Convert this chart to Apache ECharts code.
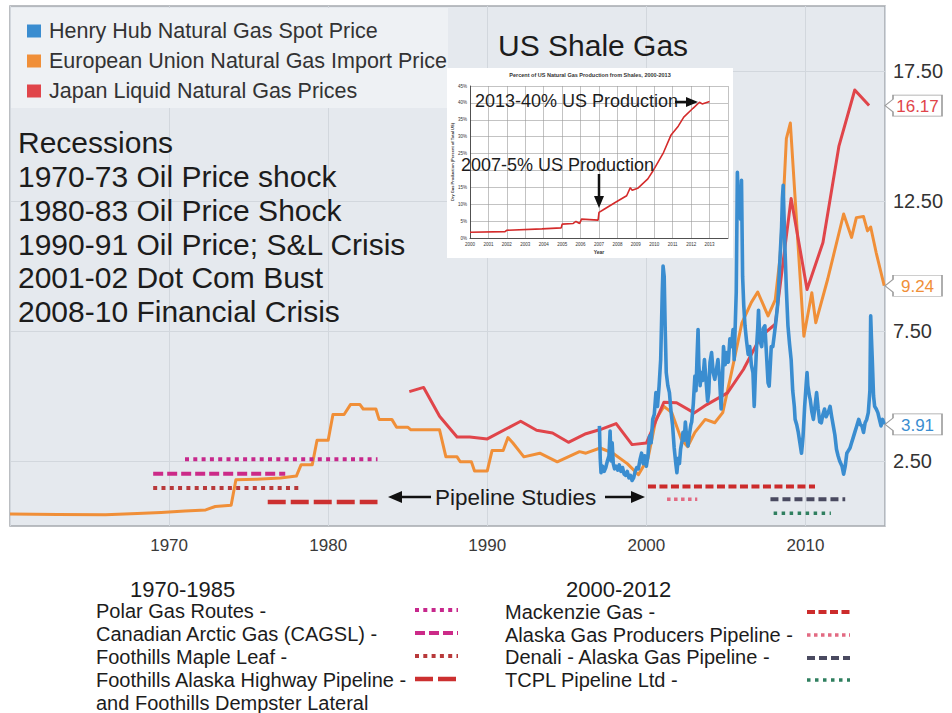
<!DOCTYPE html>
<html><head><meta charset="utf-8">
<script src="https://cdn.jsdelivr.net/npm/echarts@6/dist/echarts.min.js"></script>
<style>html,body{margin:0;padding:0;background:#fff}#c{width:952px;height:713px}</style>
</head><body><div id="c"></div>
<script>
// ---------- DATA ----------
const seriesNames = ['Henry Hub Natural Gas Spot Price', 'European Union Natural Gas Import Price', 'Japan Liquid Natural Gas Prices'];
const xTicks = [1970, 1980, 1990, 2000, 2010];
const yTicks = [2.5, 7.5, 12.5, 17.5];

const henryHub = [
[1997.05,3.85],[1997.1,2.6],[1997.15,2.05],[1997.25,2.3],[1997.35,2.1],[1997.45,2.25],[1997.55,2.5],[1997.65,2.7],
[1997.72,3.65],[1997.78,2.5],[1997.85,3.2],[1997.92,2.4],[1998.0,2.2],[1998.1,2.3],[1998.2,2.15],[1998.3,2.35],
[1998.4,2.1],[1998.5,2.25],[1998.6,2.0],[1998.7,1.95],[1998.8,2.1],[1998.9,1.85],[1999.0,1.95],[1999.1,1.75],
[1999.2,1.85],[1999.3,2.1],[1999.4,2.25],[1999.5,2.2],[1999.6,2.55],[1999.7,2.8],[1999.8,2.4],[1999.9,2.7],
[2000.0,2.3],[2000.1,2.7],[2000.2,3.46],[2000.3,3.2],[2000.4,4.1],[2000.5,4.3],[2000.6,5.13],[2000.7,4.6],
[2000.8,5.38],[2000.9,6.4],[2001.0,9.0],[2001.05,10.0],[2001.12,9.6],[2001.18,7.7],[2001.25,5.9],[2001.35,5.4],
[2001.45,5.13],[2001.55,4.4],[2001.65,3.85],[2001.75,3.0],[2001.85,2.4],[2001.92,2.05],[2002.0,2.6],[2002.08,2.4],
[2002.15,2.95],[2002.25,3.3],[2002.3,3.6],[2002.38,3.3],[2002.45,4.0],[2002.55,3.3],[2002.62,3.08],[2002.7,3.5],
[2002.8,3.9],[2002.85,4.0],[2002.95,4.7],[2003.05,5.77],[2003.12,5.2],[2003.18,6.4],[2003.25,7.56],[2003.3,6.2],
[2003.38,5.4],[2003.45,5.9],[2003.55,5.6],[2003.65,6.4],[2003.75,5.6],[2003.85,4.8],[2003.92,5.13],[2004.0,6.3],
[2004.1,6.67],[2004.2,5.9],[2004.3,5.64],[2004.4,6.0],[2004.5,6.4],[2004.6,5.7],[2004.7,4.5],[2004.78,5.6],
[2004.85,6.9],[2004.95,6.2],[2005.05,6.67],[2005.15,6.3],[2005.25,7.2],[2005.35,6.9],[2005.45,7.56],[2005.52,6.4],
[2005.6,8.0],[2005.65,9.0],[2005.72,13.6],[2005.78,12.4],[2005.85,12.8],[2005.92,11.8],[2005.98,13.3],[2006.05,9.6],
[2006.12,8.5],[2006.2,7.7],[2006.3,7.1],[2006.4,6.6],[2006.5,6.9],[2006.6,6.2],[2006.7,5.9],[2006.78,4.6],
[2006.85,5.8],[2006.92,6.8],[2007.0,7.6],[2007.05,8.3],[2007.12,7.4],[2007.2,7.0],[2007.25,6.9],[2007.35,7.6],
[2007.45,7.7],[2007.55,6.6],[2007.65,5.5],[2007.72,5.38],[2007.8,6.3],[2007.85,6.9],[2007.95,6.9],[2008.05,7.4],
[2008.15,7.9],[2008.25,8.5],[2008.3,9.0],[2008.4,10.3],[2008.5,11.5],[2008.55,12.6],[2008.6,13.1],[2008.65,12.0],
[2008.7,10.9],[2008.8,9.1],[2008.9,7.7],[2009.0,7.0],[2009.1,6.4],[2009.2,5.2],[2009.3,4.6],[2009.35,4.1],
[2009.45,3.9],[2009.55,3.6],[2009.65,3.2],[2009.75,2.8],[2009.8,3.1],[2009.85,3.46],[2009.95,4.6],[2010.05,5.5],
[2010.1,5.9],[2010.15,5.4],[2010.25,5.0],[2010.3,4.87],[2010.4,4.4],[2010.5,4.1],[2010.6,4.6],[2010.7,5.13],
[2010.8,4.5],[2010.9,4.0],[2011.0,3.97],[2011.1,4.3],[2011.2,4.5],[2011.3,4.2],[2011.45,4.4],[2011.55,4.6],
[2011.65,4.2],[2011.75,3.85],[2011.85,3.5],[2011.95,2.95],[2012.05,2.7],[2012.15,2.5],[2012.3,2.3],[2012.4,1.99],
[2012.5,2.3],[2012.6,2.8],[2012.7,2.9],[2012.8,3.0],[2012.9,3.2],[2013.0,3.4],[2013.1,3.6],[2013.2,3.8],
[2013.35,4.1],[2013.45,3.9],[2013.55,3.85],[2013.65,3.6],[2013.75,3.97],[2013.85,4.1],[2013.95,4.36],[2014.05,5.2],
[2014.1,8.08],[2014.15,7.2],[2014.2,6.4],[2014.28,5.0],[2014.35,4.6],[2014.45,4.5],[2014.55,4.36],[2014.65,4.1],
[2014.75,3.85],[2014.85,4.1],[2014.95,3.91]
];

const euImport = [
[1960,0.46],[1963,0.44],[1966,0.43],[1968,0.48],[1969.5,0.52],[1971,0.58],[1972.3,0.62],[1972.9,0.75],[1973.9,0.8],
[1974.2,1.78],[1975.5,1.8],[1977,1.85],[1978,1.92],[1978.3,2.36],[1979,2.36],[1979.3,3.3],[1980,3.3],[1980.3,4.29],
[1981,4.29],[1981.4,4.67],[1982,4.67],[1982.2,4.5],[1983,4.5],[1983.2,4.1],[1984,4.1],[1984.3,3.8],[1985,3.8],
[1985.2,3.7],[1987,3.7],[1987.4,2.66],[1988.1,2.66],[1988.3,2.47],[1989,2.47],[1989.2,2.12],[1990,2.12],[1990.3,2.9],
[1991,2.9],[1991.3,3.4],[1991.6,3.2],[1992.3,2.66],[1993.3,2.8],[1994.4,2.47],[1995.8,2.86],[1996.2,2.8],[1997.1,3.0],
[1997.9,2.8],[1998.8,2.4],[1999.5,1.97],[2000.1,2.6],[2000.6,4.1],[2001.1,4.6],[2001.6,4.36],[2002.2,3.33],[2002.6,3.05],
[2003.05,3.6],[2003.7,4.1],[2004.3,3.97],[2004.8,4.36],[2005.35,5.9],[2006.0,7.8],[2006.6,8.6],[2007.0,9.0],[2007.65,8.08],
[2008.1,8.7],[2008.4,10.3],[2008.6,12.4],[2008.8,14.9],[2009.05,15.5],[2009.9,7.3],[2010.4,8.97],[2010.65,7.82],
[2011.4,9.5],[2012.4,12.0],[2012.9,11.1],[2013.2,11.86],[2013.65,11.9],[2013.9,11.35],[2014.1,11.5],[2014.45,10.5],[2014.95,9.24]
];

const japanLng = [
[1985.1,5.17],[1986.0,5.33],[1987.0,4.22],[1988.1,3.42],[1988.9,3.42],[1990.0,3.35],[1992.1,4.03],[1993.1,3.68],
[1994.1,3.58],[1995.1,3.22],[1996.2,3.55],[1997.1,3.71],[1998.1,3.94],[1999.1,3.13],[2000.0,3.19],[2001.1,4.76],
[2001.9,4.74],[2003.0,4.35],[2003.8,4.67],[2005.1,5.12],[2006.1,6.02],[2007.2,7.3],[2008.1,7.76],[2009.1,12.6],
[2010.1,9.1],[2011.1,10.9],[2012.1,14.6],[2013.1,16.77],[2014.0,16.17]
];

// Pipeline studies (start year, end year, level on price axis)
const pipelineNames = ['Polar Gas Routes', 'Canadian Arctic Gas (CAGSL)', 'Foothills Maple Leaf', 'Foothills Alaska Highway Pipeline',
  'Mackenzie Gas', 'Alaska Gas Producers Pipeline', 'Denali - Alaska Gas Pipeline', 'TCPL Pipeline Ltd'];
const pipelineStart = [1971.0, 1969.0, 1969.0, 1976.2, 2000.1, 2001.3, 2007.8, 2008.0];
const pipelineEnd   = [1983.1, 1977.3, 1978.2, 1983.1, 2010.6, 2003.2, 2012.5, 2011.6];
const pipelineLevel = [2.57, 2.01, 1.46, 0.92, 1.52, 1.03, 1.03, 0.49];

// Inset: percent of US natural gas production from shales
const shaleData = [
[2000,1.7],[2001.9,1.9],[2002.0,2.3],[2003.9,2.7],[2004.95,3.0],[2005.0,4.1],[2005.6,4.3],[2005.75,4.9],[2005.95,4.3],
[2006.05,5.6],[2006.95,5.3],[2007.0,7.6],[2007.3,8.6],[2007.9,10.6],[2008.5,12.5],[2008.7,14.9],[2008.8,14.1],[2009.1,14.7],
[2009.65,17.5],[2009.9,19.6],[2010.5,25.3],[2010.9,30.4],[2011.3,33.1],[2011.6,35.8],[2012.1,38.4],[2012.45,40.2],[2012.6,39.7],[2013.0,40.4]
];
const shaleHiddenTicks = [20]; // covered by the annotation in the original

const recessionLines = ['Recessions', '1970-73 Oil Price shock', '1980-83 Oil Price Shock', '1990-91 Oil Price; S&L Crisis', '2001-02 Dot Com Bust', '2008-10 Financial Crisis'];

// ---------- STYLES ----------
const FONT = '"Liberation Sans", Arial, Helvetica, sans-serif';
const mainColors = ['#3a8dd0', '#f08f38', '#e0454a'];
const mainWidths = [3.6, 3, 3];
const pipeColors = ['#c7288c', '#cc2a88', '#b8393a', '#cc3030', '#cc2b2b', '#e26a82', '#4a4a60', '#2f7f5f'];
const pipeDash = [[4, 4.3], [10, 4], [4, 4.3], [18, 5], [8, 3.5], [3.5, 3.5], [8, 4], [3.5, 4.5]];
const pipeWidth = [4, 4, 4, 4.5, 4, 3.5, 4, 3.5];
const tagPath = 'path://M0,10 L8,4 L8,0 L57,0 L57,20 L8,20 L8,16 Z';

function mainLine(i, data) {
  const last = data[data.length - 1][1];
  return {
    name: seriesNames[i], type: 'line', xAxisIndex: 0, yAxisIndex: 0, data: data,
    symbol: 'none', showSymbol: false, z: 3,
    lineStyle: { color: mainColors[i], width: mainWidths[i], join: 'round' },
    itemStyle: { color: mainColors[i] },
    markPoint: {
      silent: true, symbol: tagPath, symbolSize: [57, 21], symbolOffset: ['50%', 0],
      itemStyle: { color: '#fff', borderColor: '#9d9d9d', borderWidth: 1 },
      label: { show: true, position: 'inside', offset: [4, 1], formatter: () => last.toFixed(2), color: mainColors[i], fontSize: 17, fontFamily: FONT },
      data: [{ coord: [2015, last], value: last }]
    }
  };
}

const pipelineSeries = pipelineNames.map((n, i) => ({
  name: n, type: 'line', xAxisIndex: 0, yAxisIndex: 0, symbol: 'none', silent: true, z: 4,
  data: [[pipelineStart[i], pipelineLevel[i]], [pipelineEnd[i], pipelineLevel[i]]],
  lineStyle: { color: pipeColors[i], width: pipeWidth[i], type: pipeDash[i], cap: 'butt' }
}));

// ---------- GRAPHICS (text annotations & legend) ----------
function T(text, x, y, size, extra) {
  return { type: 'text', x: x, y: y, z: 10, silent: true,
    style: Object.assign({ text: text, fontSize: size, fontFamily: FONT, fill: '#1c1c1c', verticalAlign: 'middle' }, extra || {}) };
}
function L(x1, y1, x2, y2, color, width, dash) {
  return { type: 'line', z: 10, silent: true, shape: { x1, y1, x2, y2 }, style: { stroke: color, lineWidth: width, lineDash: dash || null, lineCap: 'butt' } };
}
function P(points, color) {
  return { type: 'polygon', z: 10, silent: true, shape: { points }, style: { fill: color } };
}

const graphics = [
  { type: 'rect', z: 1, silent: true, shape: { x: 11, y: 8, width: 437, height: 100 }, style: { fill: '#eef1f4' } },
  { type: 'rect', z: 1, silent: true, shape: { x: 447, y: 68, width: 286, height: 190 }, style: { fill: '#ffffff' } },
  T('US Shale Gas', 498, 45, 30),
  T('Percent of US Natural Gas Production from Shales, 2000-2013', 590, 75, 5.5, { textAlign: 'center', fontWeight: 'bold', fill: '#333' }),
  T('2013-40% US Production', 475, 101, 18),
  L(675, 102, 688, 102, '#111', 2.5), P([[698, 102], [686, 97], [686, 107]], '#111'),
  T('2007-5% US Production', 461, 165, 18),
  L(599, 174, 599, 198, '#111', 2.5), P([[599, 208], [594, 196], [604, 196]], '#111'),
  T('Pipeline Studies', 435, 497, 22.5),
  L(400, 497, 431, 497, '#111', 2.5), P([[388, 497], [402, 491], [402, 503]], '#111'),
  L(605, 497, 633, 497, '#111', 2.5), P([[645, 497], [631, 491], [631, 503]], '#111'),
  T('1970-1985', 130, 589, 22),
  T('2000-2012', 566, 589, 22),
  T('Polar Gas Routes -', 96, 611, 20),
  T('Canadian Arctic Gas (CAGSL) -', 96, 634, 20),
  T('Foothills Maple Leaf -', 96, 657, 20),
  T('Foothills Alaska Highway Pipeline -', 96, 680, 20),
  T('and Foothills Dempster Lateral', 96, 703, 20),
  T('Mackenzie Gas -', 505, 612, 20),
  T('Alaska Gas Producers Pipeline -', 505, 635, 20),
  T('Denali - Alaska Gas Pipeline -', 505, 657, 20),
  T('TCPL Pipeline Ltd -', 505, 680, 20),
  L(415, 610, 458, 610, pipeColors[0], 4, pipeDash[0]),
  L(415, 633, 458, 633, pipeColors[1], 4, pipeDash[1]),
  L(415, 656, 458, 656, pipeColors[2], 4, pipeDash[2]),
  L(415, 679, 458, 679, pipeColors[3], 4.5, pipeDash[3]),
  L(807, 612, 850, 612, pipeColors[4], 4, pipeDash[4]),
  L(807, 635, 850, 635, pipeColors[5], 3.5, pipeDash[5]),
  L(807, 658, 850, 658, pipeColors[6], 4, pipeDash[6]),
  L(807, 680, 850, 680, pipeColors[7], 3.5, pipeDash[7])
];
const recY = [142, 176, 210, 244, 277, 311];
recessionLines.forEach((t, i) => graphics.push(T(t, 18, recY[i], 30)));

// ---------- OPTION ----------
const option = {
  animation: false,
  backgroundColor: '#ffffff',
  textStyle: { fontFamily: FONT },
  legend: {
    data: seriesNames, orient: 'vertical', left: 27, top: 20, padding: 0, itemGap: 8,
    itemWidth: 14, itemHeight: 13, icon: 'rect', selectedMode: false, z: 10,
    textStyle: { fontSize: 21.5, color: '#333', padding: [0, 0, 0, 3], fontFamily: FONT }
  },
  grid: [
    { left: 10, top: 6, width: 875, height: 520, show: true, backgroundColor: '#e5e9ee', borderColor: '#a5a9ae', borderWidth: 1.5 },
    { left: 470, top: 86, width: 258, height: 152, show: false }
  ],
  xAxis: [
    { type: 'value', gridIndex: 0, min: 1960, max: 2015, interval: 10,
      axisLine: { show: false }, axisTick: { show: false },
      axisLabel: { formatter: v => xTicks.includes(v) ? String(v) : '', fontSize: 17, color: '#3a3a3a', margin: 11,
        fontFamily: '"Liberation Sans Narrow", "Liberation Sans", Arial, sans-serif' },
      splitLine: { show: true, lineStyle: { color: '#d2d7dd', width: 1 } } },
    { type: 'value', gridIndex: 1, min: 2000, max: 2014, interval: 1, z: 3,
      axisLine: { show: true, lineStyle: { color: '#333', width: 0.8 } }, axisTick: { show: false },
      axisLabel: { formatter: v => v < 2014 ? String(v) : '', fontSize: 4.5, color: '#333', margin: 4 },
      splitLine: { show: true, lineStyle: { color: '#9a9a9a', width: 0.6 } },
      name: 'Year', nameLocation: 'middle', nameGap: 11, nameTextStyle: { fontSize: 5, fontWeight: 'bold', color: '#333' } }
  ],
  yAxis: [
    { type: 'value', gridIndex: 0, position: 'right', min: 0, max: 20, interval: 2.5,
      axisLine: { show: false }, axisTick: { show: false },
      axisLabel: { formatter: v => yTicks.includes(v) ? v.toFixed(2) : '', fontSize: 20, color: '#333', margin: 8 },
      splitLine: { show: true, lineStyle: { color: ['rgba(0,0,0,0)', '#d2d7dd'], width: 1 } } },
    { type: 'value', gridIndex: 1, min: 0, max: 45, interval: 5, z: 3,
      axisLine: { show: true, lineStyle: { color: '#333', width: 0.8 } }, axisTick: { show: false },
      axisLabel: { formatter: v => shaleHiddenTicks.includes(v) ? '' : v + '%', fontSize: 4.5, color: '#333', margin: 3 },
      splitLine: { show: true, lineStyle: { color: '#9a9a9a', width: 0.6 } },
      name: 'Dry Gas Production (Percent of Total US)', nameLocation: 'middle', nameRotate: 90, nameGap: 16,
      nameTextStyle: { fontSize: 4, color: '#333', fontWeight: 'bold' } }
  ],
  series: [
    mainLine(1, euImport),
    mainLine(2, japanLng),
    mainLine(0, henryHub),
    ...pipelineSeries,
    { name: 'Shale share', type: 'line', xAxisIndex: 1, yAxisIndex: 1, data: shaleData, symbol: 'none', z: 5,
      lineStyle: { color: '#d42b2b', width: 1.6 } }
  ],
  graphic: graphics
};

const chart = echarts.init(document.getElementById('c'), null, { renderer: 'svg' });
chart.setOption(option);
</script>
</body></html>
